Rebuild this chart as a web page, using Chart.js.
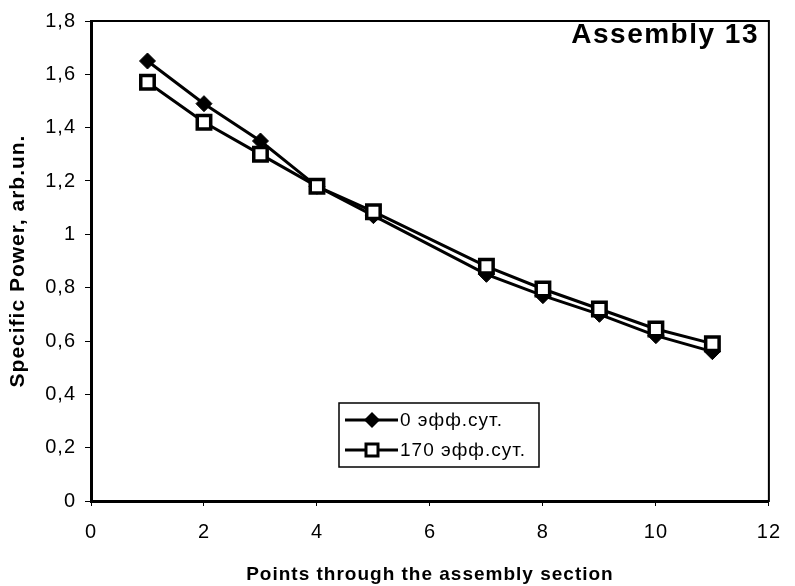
<!DOCTYPE html>
<html>
<head>
<meta charset="utf-8">
<title>Assembly 13 — specific power</title>
<script src="https://cdn.jsdelivr.net/npm/chart.js@4/dist/chart.umd.min.js"></script>
<style>
  html, body { margin: 0; padding: 0; background: #fff; }
  #chart { display: block; }
</style>
</head>
<body>
<canvas id="chart" width="795" height="586"></canvas>
<script>
// ── Data ──
const points = [1, 2, 3, 4, 5, 7, 8, 9, 10, 11];
const power0 = [1.65, 1.49, 1.35, 1.18, 1.07, 0.85, 0.77, 0.70, 0.62, 0.56];
const power170 = [1.57, 1.42, 1.30, 1.18, 1.085, 0.88, 0.795, 0.72, 0.645, 0.59];
const seriesNames = ['0 эфф.сут.', '170 эфф.сут.'];
const yTickLabels = ['0', '0,2', '0,4', '0,6', '0,8', '1', '1,2', '1,4', '1,6', '1,8'];
const xTickLabels = ['0', '2', '4', '6', '8', '10', '12'];
const chartTitle = 'Assembly 13';

const FONT = "'Liberation Sans', Arial, Helvetica, sans-serif";
const INK = '#000';

const toXY = (ys) => points.map((x, i) => ({ x, y: ys[i] }));

// scanned text in the original is a touch wider than the plain font
const spacing = {
  id: 'spacing',
  beforeLayout(chart) { chart.ctx.letterSpacing = '1px'; },
  beforeDraw(chart) { chart.ctx.letterSpacing = '1px'; }
};

// ── Frame round the plot area (top/right thinner than the axes) ──
const frame = {
  id: 'frame',
  beforeDatasetsDraw(chart) {
    const { ctx, chartArea: a } = chart;
    ctx.save();
    ctx.strokeStyle = INK;
    ctx.lineWidth = 2;
    ctx.strokeRect(a.left, a.top, a.right - a.left, a.bottom - a.top);
    ctx.restore();
  }
};

// ── Title and boxed legend inside the plot area ──
const overlay = {
  id: 'overlay',
  afterDraw(chart) {
    const { ctx } = chart;
    ctx.save();
    ctx.fillStyle = INK;

    ctx.font = `bold 28px ${FONT}`;
    ctx.letterSpacing = '1.5px';
    ctx.textAlign = 'right';
    ctx.textBaseline = 'alphabetic';
    ctx.fillText(chartTitle, 759, 43);

    // legend box
    const box = { x: 339, y: 403, w: 200, h: 64 };
    ctx.fillStyle = '#fff';
    ctx.fillRect(box.x, box.y, box.w, box.h);
    ctx.strokeStyle = INK;
    ctx.lineWidth = 1.5;
    ctx.strokeRect(box.x, box.y, box.w, box.h);

    const rows = [box.y + 17, box.y + 47];
    ctx.font = `19px ${FONT}`;
    ctx.letterSpacing = '1px';
    ctx.textAlign = 'left';
    ctx.textBaseline = 'middle';
    rows.forEach((cy, i) => {
      ctx.strokeStyle = INK;
      ctx.lineWidth = 3;
      ctx.beginPath();
      ctx.moveTo(345, cy);
      ctx.lineTo(398, cy);
      ctx.stroke();
      ctx.beginPath();
      if (i === 0) {
        ctx.fillStyle = INK;
        ctx.moveTo(372, cy - 8);
        ctx.lineTo(380, cy);
        ctx.lineTo(372, cy + 8);
        ctx.lineTo(364, cy);
        ctx.closePath();
        ctx.fill();
      } else {
        ctx.fillStyle = '#fff';
        ctx.lineWidth = 3;
        ctx.rect(366, cy - 6, 12, 12);
        ctx.fill();
        ctx.stroke();
      }
      ctx.fillStyle = INK;
      ctx.fillText(seriesNames[i], 400, cy + 1);
    });
    ctx.restore();
  }
};

new Chart(document.getElementById('chart'), {
  type: 'line',
  data: {
    datasets: [
      {
        label: seriesNames[0],
        data: toXY(power0),
        borderColor: INK,
        borderWidth: 3,
        pointStyle: 'rectRot',
        pointRadius: 8,
        pointBackgroundColor: INK,
        pointBorderColor: INK,
        pointBorderWidth: 1,
        tension: 0,
        order: 2
      },
      {
        label: seriesNames[1],
        data: toXY(power170),
        borderColor: INK,
        borderWidth: 3,
        pointStyle: 'rect',
        pointRadius: 9.5,
        pointBackgroundColor: '#fff',
        pointBorderColor: INK,
        pointBorderWidth: 3.5,
        tension: 0,
        order: 1
      }
    ]
  },
  options: {
    responsive: false,
    animation: false,
    events: [],
    layout: { padding: { top: 16, right: 15, left: 0, bottom: 0 } },
    plugins: {
      legend: { display: false },
      tooltip: { enabled: false }
    },
    scales: {
      x: {
        type: 'linear',
        min: 0,
        max: 12,
        afterFit: (s) => { s.height = 85; },
        afterBuildTicks: (s) => { s.ticks = xTickLabels.map((t, i) => ({ value: i * 2 })); },
        border: { color: INK, width: 3 },
        grid: { drawOnChartArea: false, drawTicks: true, tickLength: 5, color: INK },
        ticks: {
          color: INK,
          padding: 14,
          maxRotation: 0,
          font: { family: FONT, size: 20 },
          callback: (v) => xTickLabels[Math.round(v / 2)]
        },
        title: {
          display: true,
          text: 'Points through the assembly section',
          color: INK,
          font: { family: FONT, size: 19, weight: 'bold' },
          padding: { top: 9, bottom: 0 }
        }
      },
      y: {
        min: 0,
        max: 1.8,
        afterFit: (s) => { s.width = 91; },
        afterBuildTicks: (s) => { s.ticks = yTickLabels.map((t, i) => ({ value: i * 0.2 })); },
        border: { color: INK, width: 3 },
        grid: { drawOnChartArea: false, drawTicks: true, tickLength: 6, color: INK },
        ticks: {
          color: INK,
          padding: 9,
          font: { family: FONT, size: 20 },
          callback: (v) => yTickLabels[Math.round(v / 0.2)]
        },
        title: {
          display: true,
          text: 'Specific Power, arb.un.',
          color: INK,
          font: { family: FONT, size: 21, weight: 'bold' },
          padding: { top: 6, bottom: 0 }
        }
      }
    }
  },
  plugins: [spacing, frame, overlay]
});
</script>
</body>
</html>
